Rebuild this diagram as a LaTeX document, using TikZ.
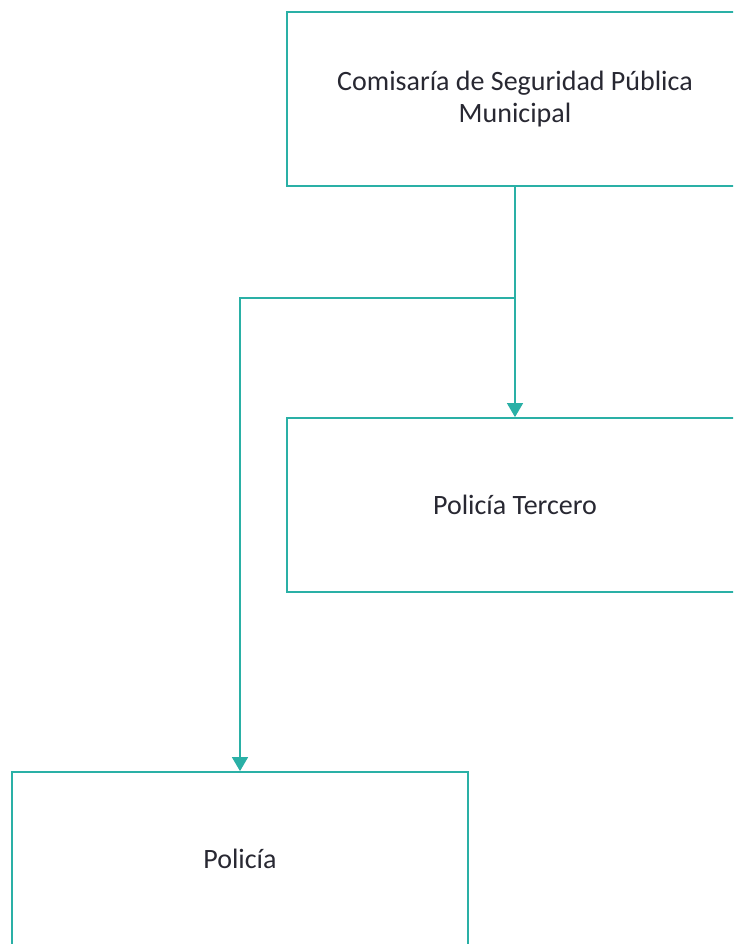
\documentclass[tikz,border=0pt]{standalone}
\usepackage{fontspec}
\setmainfont{Carlito}
\usetikzlibrary{arrows.meta,positioning}

\definecolor{verdeagua}{RGB}{42,176,166}
\definecolor{grisletra}{RGB}{40,40,50}

\tikzset{
  caja/.style={draw=verdeagua, line width=1.8pt, minimum width=456pt, minimum height=174pt,
    inner sep=0pt, align=center, text=grisletra, font=\fontsize{28}{32}\selectfont},
  enlace/.style={draw=verdeagua, line width=1.4pt, -{Triangle[width=16pt,length=14pt]}}
}

\begin{document}
\begin{tikzpicture}[x=1pt,y=-1pt]
	\clip (0,0) rectangle (733,944);
	\fill[white] (0,0) rectangle (733,944);
	\node[caja] (comisaria) at (515,99) {Comisaría de Seguridad Pública\\Municipal};
	\node[caja] (tercero) at (515,505) {Policía Tercero};
	\node[caja] (policia) at (240,859) {Policía};
	\coordinate (rama) at (515,298);
	% conexiones
	\draw[enlace] (comisaria.south) -- (tercero.north);
	\draw[enlace] (rama) -| (policia.north);
\end{tikzpicture}
\end{document}
